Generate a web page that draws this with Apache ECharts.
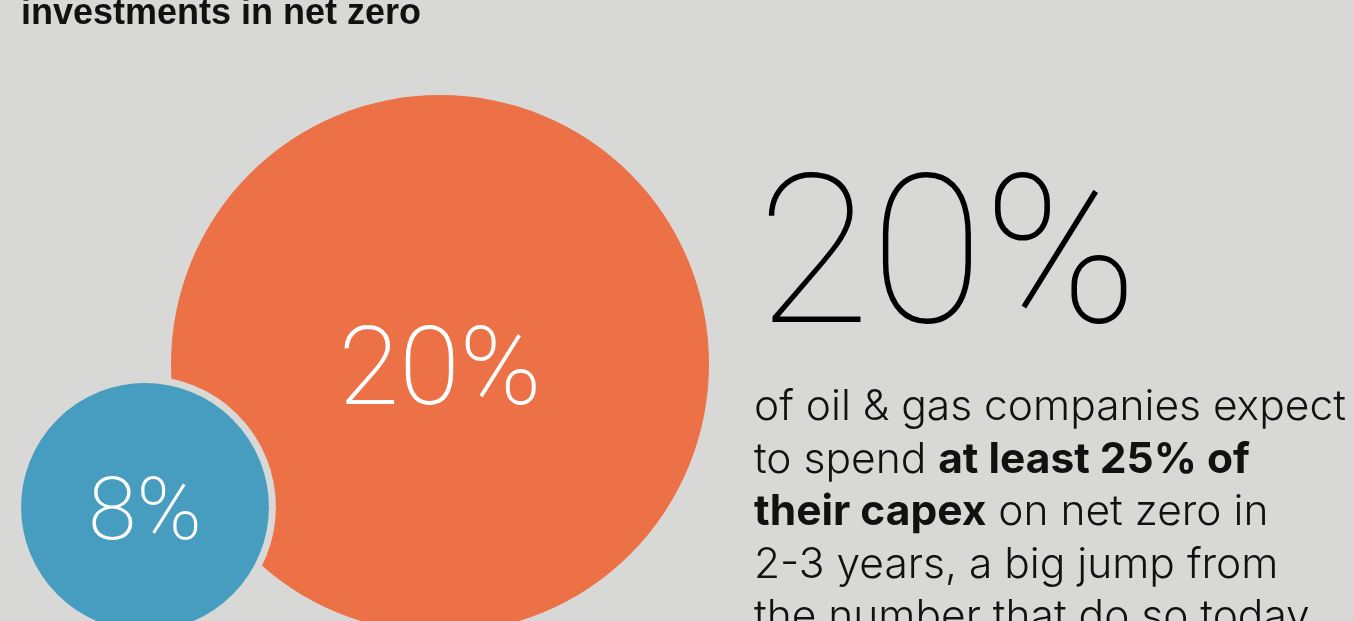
<!DOCTYPE html>
<html><head><meta charset="utf-8">
<script src="https://cdn.jsdelivr.net/npm/echarts@6/dist/echarts.min.js"></script>
<style>html,body{margin:0;padding:0;background:#d8d8d6;}#c{width:1353px;height:621px;}</style>
</head><body><div id="c"></div>
<script>
// Data
const categories = ['Expect to spend ≥25% of capex in 2-3 years', 'Spend ≥25% of capex today'];
const values = [20, 8];
const labels = ['20%', '8%'];
const headline = '20%';

const chart = echarts.init(document.getElementById('c'), null, {renderer: 'canvas'});
// layout constants (canvas pixel space via hidden axes)
const centersX = [440, 145];
const centersY = [364, 507];
const colors = ['#ed7146', '#479dc0'];
function diameter(v){ return 538 * Math.pow(v / 20, 0.846); }

const seriesList = values.map((v, i) => ({
  type: 'scatter',
  name: categories[i],
  z: 2 + i,
  data: [[centersX[i], centersY[i], v]],
  symbol: 'circle',
  symbolSize: d => diameter(d[2]) + (i === 1 ? 7 : 0),
  itemStyle: {color: colors[i], borderColor: i === 1 ? '#d8d8d6' : 'transparent', borderWidth: i === 1 ? 7 : 0, opacity: 1},
  label: {show: true, position: 'inside', formatter: () => labels[i], color: '#fff',
    fontFamily: 'Roboto', fontWeight: 200, fontSize: i === 0 ? 110 : 88, offset: [0, i === 0 ? 12 : 10]},
  emphasis: {disabled: true},
  silent: true
}));

chart.setOption({
  backgroundColor: '#d8d8d6',
  animation: false,
  grid: {left: 0, right: 0, top: 0, bottom: 0},
  xAxis: {type: 'value', min: 0, max: 1353, show: false},
  yAxis: {type: 'value', min: 0, max: 621, inverse: true, show: false},
  title: [
    {text: 'investments in net zero', left: 16, top: -9,
     textStyle: {fontFamily: 'Liberation Sans', fontWeight: 'bold', fontSize: 36, color: '#111'}},
    {text: headline, left: 752, top: 162,
     textStyle: {fontFamily: 'Roboto', fontWeight: 100, fontSize: 207, color: '#000'}},
    {text: 'of oil & gas companies expect\nto spend {b|at least 25% of}\n{b|their capex} on net zero in\n2-3 years, a big jump from\nthe number that do so today',
     left: 749, top: 376,
     textStyle: {fontFamily: 'Inter', fontWeight: 300, fontSize: 42.5, lineHeight: 52.5, color: '#111',
       rich: {b: {fontFamily: 'Inter', fontWeight: 'bold', fontSize: 42.5, lineHeight: 52.5, color: '#111'}}}}
  ],
  series: seriesList
});
</script></body></html>
